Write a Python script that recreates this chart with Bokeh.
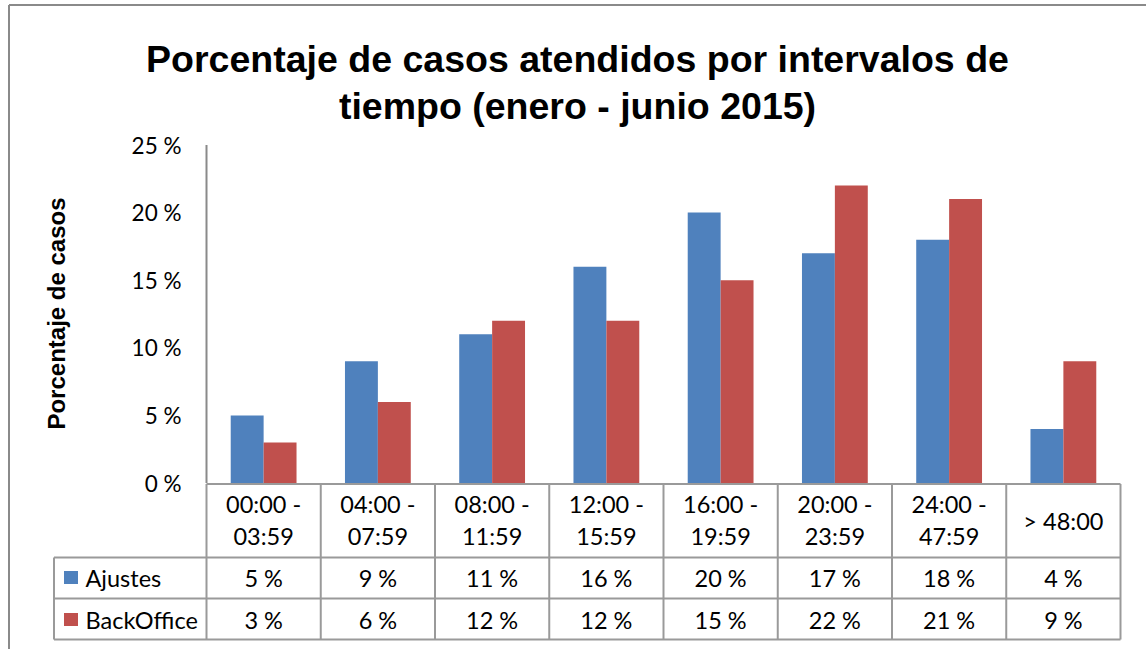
import math
from bokeh.plotting import figure
from bokeh.models import Range1d, ColumnDataSource
from bokeh.transform import dodge
from bokeh.embed import file_html
from bokeh.resources import INLINE
from bokeh.core.properties import value

# ---------------- data ----------------
categories = ["00:00 -\n03:59", "04:00 -\n07:59", "08:00 -\n11:59", "12:00 -\n15:59",
              "16:00 -\n19:59", "20:00 -\n23:59", "24:00 -\n47:59", "> 48:00"]
series_names = ["Ajustes", "BackOffice"]
ajustes = [5, 9, 11, 16, 20, 17, 18, 4]
backoffice = [3, 6, 12, 12, 15, 22, 21, 9]
y_ticks = [0, 5, 10, 15, 20, 25]
y_tick_labels = ["0 %", "5 %", "10 %", "15 %", "20 %", "25 %"]
title_lines = ["Porcentaje de casos atendidos por intervalos de", "tiempo (enero - junio 2015)"]
y_axis_title = "Porcentaje de casos"

# ---------------- style / geometry (pixels) ----------------
BLUE = "#4F81BD"
RED = "#C0504D"
LINE = "#9A9A9A"
AXIS = "#8A8A8A"
TXT_FONT = "Lato"
TITLE_FONT = "Liberation Sans"

W, H = 1146, 649
PLOT_L, PLOT_R = 206, 1120          # plot area left/right
Y0PX, YTOPPX = 482.5, 144.5         # pixel rows of 0 % and 25 %
YMAX = y_ticks[-1]
n = len(categories)
U = (PLOT_R - PLOT_L) / n           # px per category
PPY = (Y0PX - YTOPPX) / YMAX        # px per percent


def X(px):
    return (px - PLOT_L) / U


def Y(py):
    return (Y0PX - py) / PPY


p = figure(width=W, height=H,
           x_range=Range1d(X(0), X(W)), y_range=Range1d(Y(H), Y(0)),
           output_backend="svg", toolbar_location=None,
           x_axis_type=None, y_axis_type=None, min_border=0)
p.outline_line_color = None
p.grid.visible = False
p.background_fill_color = "white"
p.border_fill_color = "white"

# outer chart border (top and left edges visible)
p.segment(x0=[X(8.5), X(8.5)], y0=[Y(4.5), Y(4.5)], x1=[X(W), X(8.5)], y1=[Y(4.5), Y(H)],
          line_color=AXIS, line_width=2)

# title
for line, py in zip(title_lines, [58.5, 105]):
    p.text(x=[X(577)], y=[Y(py)], text=[line], text_align="center",
           text_baseline="alphabetic", text_font=value(TITLE_FONT),
           text_font_style="bold", text_font_size="37.5px", text_color="black")

# y axis: line, tick labels, title
p.segment(x0=[0], y0=[0], x1=[0], y1=[YMAX], line_color=AXIS, line_width=2)
p.text(x=[X(181)] * len(y_ticks), y=y_ticks, text=y_tick_labels, text_align="right",
       text_baseline="middle", text_font=value(TXT_FONT), text_font_size="22.5px",
       text_color="black")
p.text(x=[X(56)], y=[Y(313)], text=[y_axis_title], angle=math.pi / 2,
       text_align="center", text_baseline="alphabetic", text_font=value(TITLE_FONT),
       text_font_style="bold", text_font_size="24px", text_color="black")

# bars
src = ColumnDataSource(dict(x=[i + 0.5 for i in range(n)], ajustes=ajustes, backoffice=backoffice))
bw = 0.288
p.vbar(x=dodge("x", -bw / 2, range=p.x_range), top="ajustes", bottom=0, width=bw,
       source=src, fill_color=BLUE, line_color=None)
p.vbar(x=dodge("x", bw / 2, range=p.x_range), top="backoffice", bottom=0, width=bw,
       source=src, fill_color=RED, line_color=None)

# ---------------- data table ----------------
LEG_L = X(53.5)
T_TOP, HEAD_B, ROW1_B, ROW2_B = Y(483.5), Y(557), Y(598), Y(639)
x0s, y0s, x1s, y1s = [], [], [], []
x0s += [0, LEG_L, LEG_L, LEG_L]
x1s += [n, n, n, n]
y0s += [T_TOP, HEAD_B, ROW1_B, ROW2_B]
y1s += [T_TOP, HEAD_B, ROW1_B, ROW2_B]
for i in range(n + 1):
    x0s.append(i); x1s.append(i); y0s.append(T_TOP); y1s.append(ROW2_B)
x0s.append(LEG_L); x1s.append(LEG_L); y0s.append(HEAD_B); y1s.append(ROW2_B)
p.segment(x0=x0s, y0=y0s, x1=x1s, y1=y1s, line_color=LINE, line_width=2)

# category labels
cx, cy, ct = [], [], []
for i, c in enumerate(categories):
    parts = c.split("\n")
    if len(parts) == 2:
        cx += [i + 0.5, i + 0.5]
        cy += [Y(503.5), Y(535.5)]
        ct += parts
    else:
        cx.append(i + 0.5)
        cy.append(Y(520))
        ct.append(c)
p.text(x=cx, y=cy, text=ct, text_align="center", text_baseline="middle",
       text_font=value(TXT_FONT), text_font_size="23.5px", text_color="black")

# value rows with legend keys
row_y = [Y(577), Y(619)]
for vals, yy, name, col in zip([ajustes, backoffice], row_y, series_names, [BLUE, RED]):
    p.text(x=[i + 0.5 for i in range(n)], y=[yy] * n, text=[f"{v} %" for v in vals],
           text_align="center", text_baseline="middle",
           text_font=value(TXT_FONT), text_font_size="23.5px", text_color="black")
    p.rect(x=[X(70.5)], y=[yy], width=14, height=13, width_units="screen",
           height_units="screen", fill_color=col, line_color=None)
    p.text(x=[X(85)], y=[yy], text=[name], text_align="left", text_baseline="middle",
           text_font=value(TXT_FONT), text_font_size="23.5px", text_color="black")

open("out.html", "w").write(file_html(p, INLINE))
